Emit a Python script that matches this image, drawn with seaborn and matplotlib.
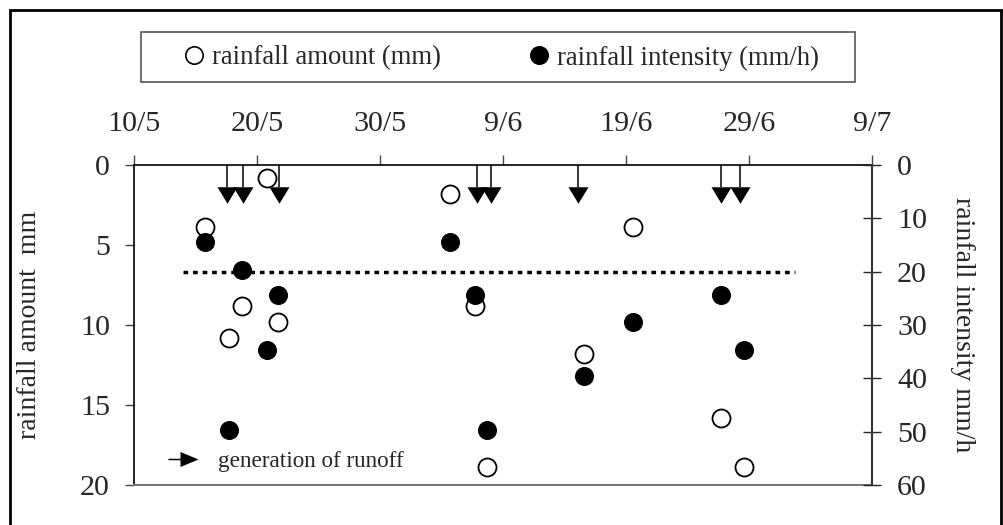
import matplotlib
matplotlib.use("Agg")
import matplotlib.pyplot as plt
from matplotlib.lines import Line2D
from matplotlib.patches import Rectangle
from matplotlib.path import Path
import seaborn as sns
import pandas as pd

# ---- data (x = days since 10 May) ----
event_day = [5.8, 7.7, 8.8, 10.8, 11.7, 25.7, 27.7, 28.7, 36.6, 40.6, 47.7, 49.6]
rain_amount = [3.85, 10.8, 8.8, 0.83, 9.83, 1.83, 8.8, 18.85, 11.8, 3.85, 15.8, 18.85]
rain_intensity = [14.5, 49.6, 19.6, 34.7, 24.4, 14.5, 24.4, 49.6, 39.5, 29.5, 24.4, 34.7]
runoff_day = [7.6, 8.9, 11.8, 27.9, 29.0, 36.1, 47.7, 49.3]
threshold_intensity = 20
threshold_span = [4.0, 53.7]
tick_days = [0, 10, 20, 30, 40, 50, 60]
tick_labels = ["10/5", "20/5", "30/5", "9/6", "19/6", "29/6", "9/7"]
left_ticks = [0, 5, 10, 15, 20]
right_ticks = [0, 10, 20, 30, 40, 50, 60]

W, H = 1004, 525
sns.set_theme(style="white")
plt.rcParams['font.family'] = ['Liberation Serif', 'DejaVu Serif']

fig = plt.figure(figsize=(W / 100, H / 100), dpi=100)
ax = fig.add_axes([134 / W, 1 - 485 / H, 738 / W, 320 / H])
ax2 = ax.twinx()

df = pd.DataFrame({"day": event_day, "amount": rain_amount, "intensity": rain_intensity})

sns.scatterplot(data=df, x="day", y="amount", ax=ax, s=168, facecolor="white",
                edgecolor="black", linewidth=1.3, zorder=3, legend=False)
sns.scatterplot(data=df, x="day", y="intensity", ax=ax2, s=188, color="black",
                edgecolor="black", linewidth=0, zorder=3, legend=False)

# runoff arrows
tri = Path([(-1, 0.825), (1, 0.825), (0, -0.825), (-1, 0.825)],
           [Path.MOVETO, Path.LINETO, Path.LINETO, Path.CLOSEPOLY])
ax.vlines(runoff_day, 0, 1.36, color="black", lw=1.1, zorder=4)
ax.plot(runoff_day, [1.87] * len(runoff_day), ls="none", marker=tri, ms=14.4,
        color="black", mec="black", mew=0, zorder=4)

# threshold line
ax2.hlines(threshold_intensity, threshold_span[0], threshold_span[1], color="black",
           lw=2.5, linestyles=(0, (1.35, 1.4)), zorder=2)

ax.set_xlim(0, 60)
ax.set_ylim(20, 0)
ax2.set_ylim(60, 0)

ax.xaxis.tick_top()
ax.set_xticks(tick_days, tick_labels)
ax.set_xlabel("")
ax.tick_params(axis="x", top=True, bottom=False, labeltop=True, labelbottom=False,
               direction="out", length=7.2, width=1, pad=13, labelsize=21.6, color="#444444")
ax.set_yticks(left_ticks)
ax.tick_params(axis="y", left=True, direction="out", length=6.5, width=1, pad=10.8,
               labelsize=21.6, color="#444444")
ax2.set_yticks(right_ticks)
ax2.tick_params(axis="y", right=True, direction="inout", length=13, width=1, pad=11.5,
                labelsize=21.6, color="#222222")

for s in ["left", "top"]:
    ax.spines[s].set_color("black")
    ax.spines[s].set_linewidth(1.2)
ax.spines["bottom"].set_color("#777777")
ax.spines["bottom"].set_linewidth(1.5)
ax.spines["right"].set_visible(False)
for s in ["left", "top", "bottom"]:
    ax2.spines[s].set_visible(False)
ax2.spines["right"].set_color("#333333")
ax2.spines["right"].set_linewidth(1.5)
ax.grid(False)
ax2.grid(False)

ax.set_ylabel("rainfall amount  mm", fontsize=20)
ax.yaxis.set_label_coords(-0.141, 0.5)
ax.yaxis.label.set_va("center")
ax2.set_ylabel("rainfall intensity mm/h", fontsize=20, rotation=270)
ax2.yaxis.set_label_coords(1.122, 0.5)
ax2.yaxis.label.set_va("center")
ax2.yaxis.label.set_ha("center")

# main legend (manual frame)
fig.add_artist(Rectangle((141 / W, 1 - 82 / H), (855 - 141) / W, 50 / H,
                         transform=fig.transFigure, fill=False, edgecolor="#555555", lw=1.2))
h_open = Line2D([], [], ls="none", marker="o", ms=12.5, mfc="white", mec="black", mew=1.2)
h_fill = Line2D([], [], ls="none", marker="o", ms=13.7, mfc="black", mec="black", mew=0)
fig.legend([h_open, h_fill], ["rainfall amount (mm)", "rainfall intensity (mm/h)"],
           loc="center left", bbox_to_anchor=(180.7 / W, 1 - 58 / H),
           bbox_transform=fig.transFigure, frameon=False, ncol=2, fontsize=19.2,
           handlelength=1.0, handletextpad=0.17, columnspacing=3.17,
           borderpad=0, borderaxespad=0)

# runoff legend
arrow = Path([(-1, -0.05), (-0.2, -0.05), (-0.2, -0.5), (1, 0), (-0.2, 0.5),
              (-0.2, 0.05), (-1, 0.05), (-1, -0.05)],
             [Path.MOVETO] + [Path.LINETO] * 6 + [Path.CLOSEPOLY])
h_arrow = Line2D([], [], ls="none", marker=arrow, ms=21.6, color="black", mew=0)
fig.legend([h_arrow], ["generation of runoff"], loc="center left",
           bbox_to_anchor=(168 / W, 1 - 461 / H), bbox_transform=fig.transFigure,
           frameon=False, fontsize=16.7, handlelength=1.29, handletextpad=0.86,
           borderpad=0, borderaxespad=0)

# outer border
fig.add_artist(Rectangle((10 / W, -0.05), (1001 - 10) / W, 1.05 - 10 / H,
                         transform=fig.transFigure, fill=False, edgecolor="black", lw=2))

fig.savefig("out.png", dpi=100)
